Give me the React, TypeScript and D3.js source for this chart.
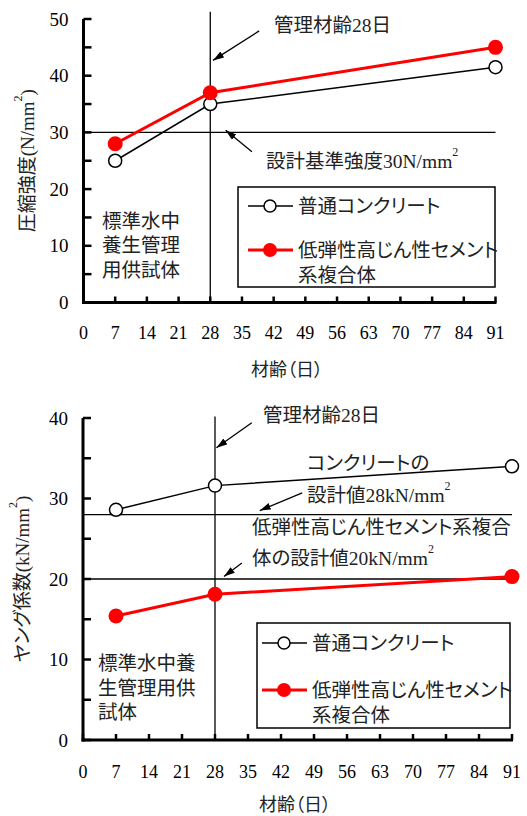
import React from 'react';
import * as d3 from 'd3';

// 材齢（日）
const ages = [7, 28, 91];
const xTickValues = [0, 7, 14, 21, 28, 35, 42, 49, 56, 63, 70, 77, 84, 91];

// 圧縮強度 (N/mm2)
const strengthNormal = [25, 35, 41.5];
const strengthEcc = [28, 37, 45];
const strengthTicks = [0, 10, 20, 30, 40, 50];
const strengthMinor = [5, 15, 25, 35, 45];

// ヤング係数 (kN/mm2)
const modulusNormal = [28.6, 31.6, 34.0];
const modulusEcc = [15.4, 18.1, 20.3];
const modulusTicks = [0, 10, 20, 30, 40];
const modulusMinor = [5, 15, 25, 35];

const seriesNames = ['普通コンクリート', '低弾性高じん性セメント', '系複合体'];

const FONT = "'Liberation Serif', 'Noto Sans CJK JP', serif";
const PALT = { fontFeatureSettings: '"palt"' } as React.CSSProperties;
const RED = '#ff0000';
const INK = '#222';

type Arrow = [number, number, number, number];

interface PanelProps {
  xRange: [number, number];
  yRange: [number, number];
  yMax: number;
  yTicks: number[];
  yMinor: number[];
  normal: number[];
  ecc: number[];
  hLines: number[];
  vTop: number;
  arrows: Arrow[];
  yTitle: string;
  yTitleX: number;
  xTitleX: number;
  xTitleY: number;
  tickLabelY: number;
  children?: React.ReactNode;
}

const Panel = (p: PanelProps) => {
  const x = d3.scaleLinear().domain([0, 91]).range(p.xRange);
  const y = d3.scaleLinear().domain([0, p.yMax]).range(p.yRange);
  const line = d3.line<number>().x((_, i) => x(ages[i])).y(d => y(d));
  const yMid = (p.yRange[0] + p.yRange[1]) / 2;

  return (
    <g>
      {/* 基準線 */}
      {p.hLines.map(v => (
        <line key={v} x1={x(0)} x2={x(91)} y1={y(v)} y2={y(v)} stroke="#000" strokeWidth={1.3} />
      ))}
      <line x1={x(28)} x2={x(28)} y1={y(0)} y2={y(p.vTop)} stroke="#000" strokeWidth={1.3} />
      {p.arrows.map((a, i) => (
        <line key={i} x1={x(a[0])} y1={y(a[1])} x2={x(a[2])} y2={y(a[3])}
          stroke="#000" strokeWidth={1.3} markerEnd="url(#arrowhead)" />
      ))}

      {/* 軸 */}
      <line x1={x(0)} x2={x(0)} y1={y(0) + 1.5} y2={y(p.yMax)} stroke="#000" strokeWidth={3} />
      <line x1={x(0) - 1.5} x2={x(91) + 1} y1={y(0)} y2={y(0)} stroke="#000" strokeWidth={3} />
      {[...p.yTicks, ...p.yMinor].map(v => (
        <line key={'yt' + v} x1={x(0)} x2={x(0) + 8} y1={y(v)} y2={y(v)} stroke="#000" strokeWidth={2.5} />
      ))}
      {xTickValues.map(v => (
        <line key={'xt' + v} x1={x(v)} x2={x(v)} y1={y(0)} y2={y(0) - 6} stroke="#000" strokeWidth={2.5} />
      ))}
      {p.yTicks.map(v => (
        <text key={'yl' + v} x={x(0) - 15} y={y(v)} textAnchor="end" dominantBaseline="central"
          fontSize={19} fontFamily={FONT}>{v}</text>
      ))}
      {xTickValues.map(v => (
        <text key={'xl' + v} x={x(v)} y={p.tickLabelY} textAnchor="middle" dominantBaseline="central"
          fontSize={18} fontFamily={FONT}>{v}</text>
      ))}
      <text x={p.xTitleX} y={p.xTitleY} textAnchor="middle" dominantBaseline="central"
        fontSize={18} fontFamily={FONT} fill={INK} style={PALT}>材齢（日）</text>
      <text transform={`translate(${p.yTitleX},${yMid}) rotate(-90)`} textAnchor="middle"
        dominantBaseline="central" fontSize={19} fontFamily={FONT} fill={INK} style={PALT}>
        {p.yTitle}<tspan dy={-9} fontSize={12}>2</tspan><tspan dy={9}>)</tspan>
      </text>

      {/* 系列 */}
      <path d={line(p.normal) || ''} fill="none" stroke="#000" strokeWidth={1.5} />
      <path d={line(p.ecc) || ''} fill="none" stroke={RED} strokeWidth={3} />
      {p.normal.map((v, i) => (
        <circle key={'n' + i} cx={x(ages[i])} cy={y(v)} r={6.5} fill="#fff" stroke="#000" strokeWidth={1.5} />
      ))}
      {p.ecc.map((v, i) => (
        <circle key={'e' + i} cx={x(ages[i])} cy={y(v)} r={7.5} fill={RED} />
      ))}
      {p.children}
    </g>
  );
};

const Legend = ({ x0, y0, w, h, lx, row1, row2 }: { x0: number; y0: number; w: number; h: number; lx: number; row1: number; row2: number }) => (
  <g fontFamily={FONT} fontSize={19.5} fill={INK} style={PALT}>
    <rect x={x0} y={y0} width={w} height={h} fill="#fff" stroke="#000" strokeWidth={1.5} />
    <line x1={lx} x2={lx + 45} y1={row1} y2={row1} stroke="#000" strokeWidth={1.5} />
    <circle cx={lx + 22} cy={row1} r={6} fill="#fff" stroke="#000" strokeWidth={1.5} />
    <text x={lx + 50} y={row1} dominantBaseline="central">{seriesNames[0]}</text>
    <line x1={lx} x2={lx + 45} y1={row2} y2={row2} stroke={RED} strokeWidth={3} />
    <circle cx={lx + 22} cy={row2} r={7} fill={RED} />
    <text x={lx + 50} y={row2} dominantBaseline="central">{seriesNames[1]}</text>
    <text x={lx + 50} y={row2 + 25} dominantBaseline="central">{seriesNames[2]}</text>
  </g>
);

const Label = ({ x, y, children }: { x: number; y: number; children: React.ReactNode }) => (
  <text x={x} y={y} dominantBaseline="central" fontFamily={FONT} fontSize={19.5} fill={INK} style={PALT}>
    {children}
  </text>
);

const Sup = () => <tspan dy={-9} fontSize={12}>2</tspan>;

export default function App() {
  return (
    <svg width={527} height={816} style={{ position: 'absolute', left: 0, top: 0, background: '#fff' }}>
      <defs>
        <marker id="arrowhead" markerUnits="userSpaceOnUse" markerWidth={12} markerHeight={8}
          refX={11} refY={3.5} orient="auto">
          <path d="M0,0 L11,3.5 L0,7 z" fill="#000" />
        </marker>
      </defs>

      <Panel xRange={[83.5, 495.5]} yRange={[302.5, 19]} yMax={50} yTicks={strengthTicks} yMinor={strengthMinor}
        normal={strengthNormal} ecc={strengthEcc} hLines={[30]} vTop={51.3}
        arrows={[[38.8, 47.9, 28.6, 42.7], [37.2, 26.6, 31.4, 30.4]]}
        yTitle="圧縮強度(N/mm" yTitleX={27} xTitleX={287} xTitleY={370} tickLabelY={333}>
        <Label x={274} y={25}>管理材齢28日</Label>
        <Label x={266} y={161}>設計基準強度30N/mm<Sup /></Label>
        <Label x={102} y={221}>標準水中</Label>
        <Label x={102} y={245}>養生管理</Label>
        <Label x={102} y={270}>用供試体</Label>
        <Legend x0={238} y0={187} w={257} h={100} lx={248} row1={206} row2={250} />
      </Panel>

      <Panel xRange={[83, 512]} yRange={[740, 418]} yMax={40} yTicks={modulusTicks} yMinor={modulusMinor}
        normal={modulusNormal} ecc={modulusEcc} hLines={[28, 20]} vTop={40.2}
        arrows={[[35.8, 39.4, 28.3, 36.3], [46.5, 30.7, 37.5, 28.5], [33.7, 22.0, 29.9, 20.3]]}
        yTitle="ヤング係数(kN/mm" yTitleX={22} xTitleX={295} xTitleY={805} tickLabelY={772}>
        <Label x={263} y={415}>管理材齢28日</Label>
        <Label x={307} y={463}>コンクリートの</Label>
        <Label x={307} y={495}>設計値28kN/mm<Sup /></Label>
        <Label x={252} y={527}>低弾性高じん性セメント系複合</Label>
        <Label x={252} y={558}>体の設計値20kN/mm<Sup /></Label>
        <Label x={98} y={663}>標準水中養</Label>
        <Label x={98} y={688}>生管理用供</Label>
        <Label x={98} y={712}>試体</Label>
        <Legend x0={257} y0={623} w={253} h={105} lx={262} row1={643} row2={690} />
      </Panel>
    </svg>
  );
}
